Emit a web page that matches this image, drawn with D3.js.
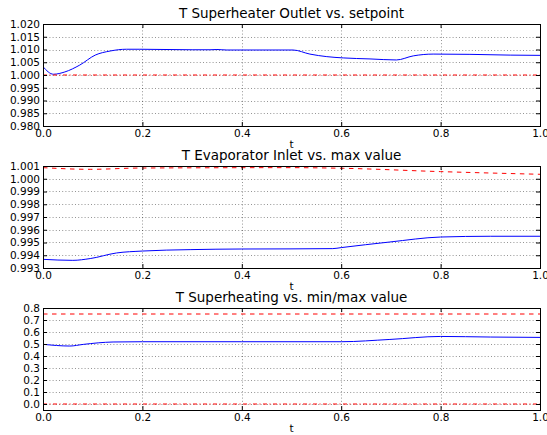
<!DOCTYPE html>
<html>
<head>
<meta charset="utf-8">
<script src="https://cdn.jsdelivr.net/npm/d3@7"></script>
<style>
  body { margin: 0; background: #fff; }
  svg { display: block; font-family: "DejaVu Sans", sans-serif; }
  .grid line { stroke: #000; stroke-width: 0.6; stroke-dasharray: 1,2.2; opacity: 0.7; }
</style>
</head>
<body>
<div id="chart"></div>
<script>
// panel 1: superheater outlet
var t1 = [0, 0.021, 0.044, 0.074, 0.105, 0.135, 0.168, 0.195, 0.30, 0.336, 0.35, 0.37, 0.503, 0.537, 0.571, 0.604, 0.658, 0.711, 0.745, 0.785, 0.859, 0.94, 1.0];
var tSup = [1.00325, 1.0003, 1.0012, 1.0039, 1.0078, 1.0094, 1.0101, 1.0101, 1.0099, 1.0099, 1.0100, 1.0098, 1.0098, 1.0082, 1.0072, 1.0067, 1.0063, 1.0059, 1.0075, 1.0082, 1.0081, 1.0078, 1.0077];
var tSet = [0, 1.0];
var setpoint = [1.0, 1.0];
var yTicks1 = [0.980, 0.985, 0.990, 0.995, 1.000, 1.005, 1.010, 1.015, 1.020];

// panel 2: evaporator inlet
var t2 = [0, 0.06, 0.095, 0.148, 0.2, 0.296, 0.4, 0.497, 0.583, 0.6, 0.698, 0.8, 0.9, 1.0];
var tEvap = [0.99368, 0.9936, 0.99374, 0.99418, 0.99433, 0.99444, 0.99449, 0.99450, 0.99452, 0.9946, 0.99504, 0.99543, 0.99549, 0.99549];
var t2max = [0, 0.095, 0.195, 0.497, 0.604, 0.8, 1.0];
var evapMax = [1.00087, 1.00074, 1.00084, 1.00087, 1.00082, 1.00056, 1.00035];
var yTicks2 = [0.993, 0.994, 0.995, 0.996, 0.997, 0.998, 0.999, 1.000, 1.001];

// panel 3: superheating
var t3 = [0, 0.054, 0.081, 0.141, 0.2, 0.4, 0.6, 0.698, 0.8, 0.9, 1.0];
var tSh = [0.4975, 0.483, 0.4967, 0.5167, 0.519, 0.519, 0.519, 0.538, 0.563, 0.558, 0.555];
var tLim = [0, 1.0];
var shMax = [0.75, 0.75];
var shMin = [0.0, 0.0];
var yTicks3 = [0.0, 0.1, 0.2, 0.3, 0.4, 0.5, 0.6, 0.7, 0.8];

var xTicks = [0.0, 0.2, 0.4, 0.6, 0.8, 1.0];

var width = 547, height = 435;
var left = 43, right = 540, panelH = 102;

var svg = d3.select("#chart").append("svg")
	.attr("width", width)
	.attr("height", height);
svg.append("rect").attr("width", width).attr("height", height).attr("fill", "#fff");

function zip(xs, ys) {
	return xs.map((d, i) => [d, ys[i]]);
}

function drawPanel(top, title, yDomain, yTicks, fmt, series) {
	var x = d3.scaleLinear().domain([0, 1]).range([left, right]);
	var y = d3.scaleLinear().domain(yDomain).range([top + panelH, top]);
	var g = svg.append("g");

	// grid
	var grid = g.append("g").attr("class", "grid");
	grid.selectAll(".gx").data(xTicks.slice(1, -1)).enter()
		.append("line")
		.attr("x1", d => Math.round(x(d)) + 0.5).attr("x2", d => Math.round(x(d)) + 0.5)
		.attr("y1", top).attr("y2", top + panelH);
	grid.selectAll(".gy").data(yTicks.filter(d => y(d) > top + 0.5 && y(d) < top + panelH - 0.5)).enter()
		.append("line")
		.attr("y1", d => Math.round(y(d)) + 0.5).attr("y2", d => Math.round(y(d)) + 0.5)
		.attr("x1", left).attr("x2", right);

	// lines
	var clip = "clip" + top;
	g.append("clipPath").attr("id", clip).append("rect")
		.attr("x", left).attr("y", top).attr("width", right - left).attr("height", panelH);
	var line = d3.line().x(d => x(d[0])).y(d => y(d[1]));
	series.forEach(s => {
		g.append("path")
			.attr("clip-path", "url(#" + clip + ")")
			.attr("d", line.curve(s.curve || d3.curveLinear)(s.data))
			.attr("fill", "none")
			.attr("stroke", s.color)
			.attr("stroke-width", s.width || 1)
			.attr("stroke-dasharray", s.dash || null);
	});

	// axes, ticks pointing inward
	var fs = "10.5px";
	g.append("g").attr("transform", "translate(0," + (top + panelH) + ")")
		.call(d3.axisBottom(x).tickValues(xTicks).tickFormat(d3.format(".1f")).tickSize(-4).tickPadding(4).tickSizeOuter(0))
		.call(a => a.select(".domain").remove())
		.selectAll("text").style("font-size", fs).attr("fill", "#000").style("font-family", "DejaVu Sans");
	g.append("g").attr("transform", "translate(0," + top + ")")
		.call(d3.axisTop(x).tickValues(xTicks).tickFormat("").tickSize(-4).tickSizeOuter(0))
		.call(a => a.select(".domain").remove());
	g.append("g").attr("transform", "translate(" + left + ",0)")
		.call(d3.axisLeft(y).tickValues(yTicks).tickFormat(d3.format(fmt)).tickSize(-4).tickPadding(3).tickSizeOuter(0))
		.call(a => a.select(".domain").remove())
		.selectAll("text").style("font-size", fs).attr("fill", "#000").style("font-family", "DejaVu Sans");
	g.append("g").attr("transform", "translate(" + right + ",0)")
		.call(d3.axisRight(y).tickValues(yTicks).tickFormat("").tickSize(-4).tickSizeOuter(0))
		.call(a => a.select(".domain").remove());

	g.append("rect")
		.attr("x", left + 0.5).attr("y", top + 0.5)
		.attr("width", right - left).attr("height", panelH)
		.attr("fill", "none").attr("stroke", "#000").attr("stroke-width", 1);

	g.append("text")
		.attr("x", (left + right) / 2).attr("y", top - 6)
		.attr("text-anchor", "middle")
		.style("font-size", "13.5px")
		.text(title);

	g.append("text")
		.attr("x", (left + right) / 2).attr("y", top + panelH + 22)
		.attr("text-anchor", "middle")
		.style("font-size", "10.5px")
		.text("t");
}

drawPanel(24, "T Superheater Outlet vs. setpoint", [0.980, 1.020], yTicks1, ".3f", [
	{ data: zip(t1, tSup), color: "#0000ff", curve: d3.curveMonotoneX },
	{ data: zip(tSet, setpoint), color: "#ff0000", dash: "4,2.5,1,2.5" }
]);

drawPanel(166, "T Evaporator Inlet vs. max value", [0.993, 1.001], yTicks2, ".3f", [
	{ data: zip(t2, tEvap), color: "#0000ff", curve: d3.curveMonotoneX },
	{ data: zip(t2max, evapMax), color: "#ff0000", dash: "4.5,4.5", curve: d3.curveMonotoneX }
]);

drawPanel(308, "T Superheating vs. min/max value", [-0.05, 0.8], yTicks3, ".1f", [
	{ data: zip(t3, tSh), color: "#0000ff", curve: d3.curveMonotoneX },
	{ data: zip(tLim, shMax), color: "#ff0000", dash: "4.5,4.5" },
	{ data: zip(tLim, shMin), color: "#ff0000", dash: "4,2.5,1,2.5" }
]);
</script>
</body>
</html>
